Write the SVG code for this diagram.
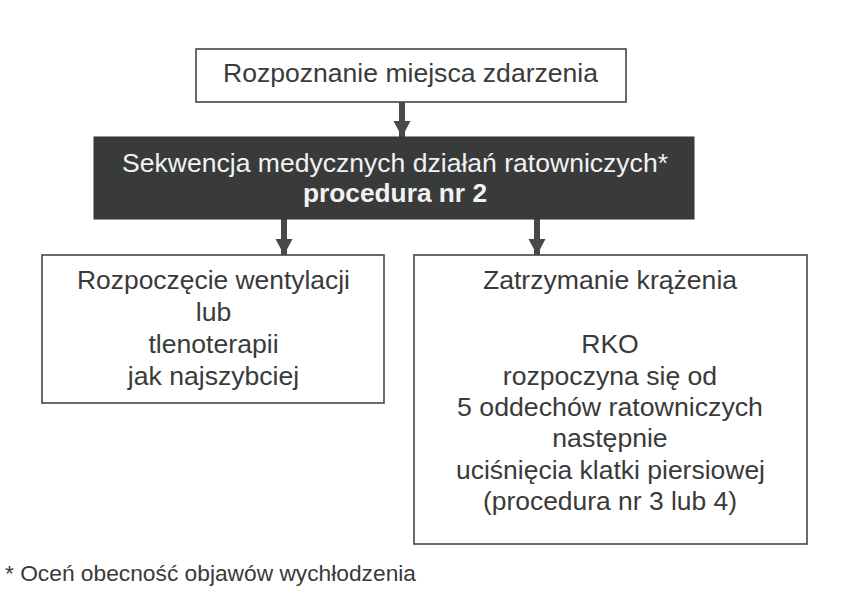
<svg xmlns="http://www.w3.org/2000/svg" width="845" height="608" viewBox="0 0 845 608">
<style>
.box{fill:#ffffff;stroke:#454545;stroke-width:1.6}
.dark{fill:#383b3a;stroke:#333;stroke-width:1}
.t{font-family:"Liberation Sans",Arial,sans-serif;font-size:26.6px;fill:#3a3a3a;text-anchor:middle}
.w{fill:#f2f2f2}
.b{font-weight:bold}
.conn line{stroke:#474a49;stroke-width:6}
.foot{font-family:"Liberation Sans",Arial,sans-serif;font-size:22.8px;fill:#3a3a3a}
</style>
<defs>
<marker id="ah" markerUnits="userSpaceOnUse" markerWidth="18" markerHeight="18" refX="16" refY="9" orient="auto">
<path d="M0,0.5 L16,9 L0,17.5 Z" fill="#474a49"/>
</marker>
</defs>
<rect width="845" height="608" fill="#ffffff"/>
<g id="connectors" class="conn">
<line x1="402" y1="102" x2="402" y2="137" marker-end="url(#ah)"/>
<line x1="284" y1="219" x2="284" y2="255" marker-end="url(#ah)"/>
<line x1="537" y1="219" x2="537" y2="255" marker-end="url(#ah)"/>
</g>
<g id="node-rozpoznanie">
<rect class="box" x="196" y="49" width="430" height="53"/>
<text class="t" x="410.5" y="82" textLength="375" lengthAdjust="spacingAndGlyphs">Rozpoznanie miejsca zdarzenia</text>
</g>
<g id="node-sekwencja">
<rect class="dark" x="94" y="137" width="600" height="82"/>
<text class="t w" x="395" y="172" textLength="546" lengthAdjust="spacingAndGlyphs">Sekwencja medycznych działań ratowniczych*</text>
<text class="t w b" x="395" y="202" textLength="184" lengthAdjust="spacingAndGlyphs">procedura nr 2</text>
</g>
<g id="node-wentylacja">
<rect class="box" x="42" y="255" width="342" height="148"/>
<text class="t" x="213.5" y="289" textLength="273" lengthAdjust="spacingAndGlyphs">Rozpoczęcie wentylacji</text>
<text class="t" x="213.5" y="321">lub</text>
<text class="t" x="213.5" y="353">tlenoterapii</text>
<text class="t" x="213.5" y="385">jak najszybciej</text>
</g>
<g id="node-zatrzymanie">
<rect class="box" x="414" y="255" width="393" height="289"/>
<text class="t" x="610" y="289">Zatrzymanie krążenia</text>
<text class="t" x="610" y="353">RKO</text>
<text class="t" x="610" y="385">rozpoczyna się od</text>
<text class="t" x="610" y="416" textLength="306" lengthAdjust="spacingAndGlyphs">5 oddechów ratowniczych</text>
<text class="t" x="610" y="447">następnie</text>
<text class="t" x="610.5" y="479" textLength="309" lengthAdjust="spacingAndGlyphs">uciśnięcia klatki piersiowej</text>
<text class="t" x="610" y="510" textLength="254" lengthAdjust="spacingAndGlyphs">(procedura nr 3 lub 4)</text>
</g>
<text class="foot" x="5" y="581" textLength="411" lengthAdjust="spacingAndGlyphs">* Oceń obecność objawów wychłodzenia</text>
</svg>
